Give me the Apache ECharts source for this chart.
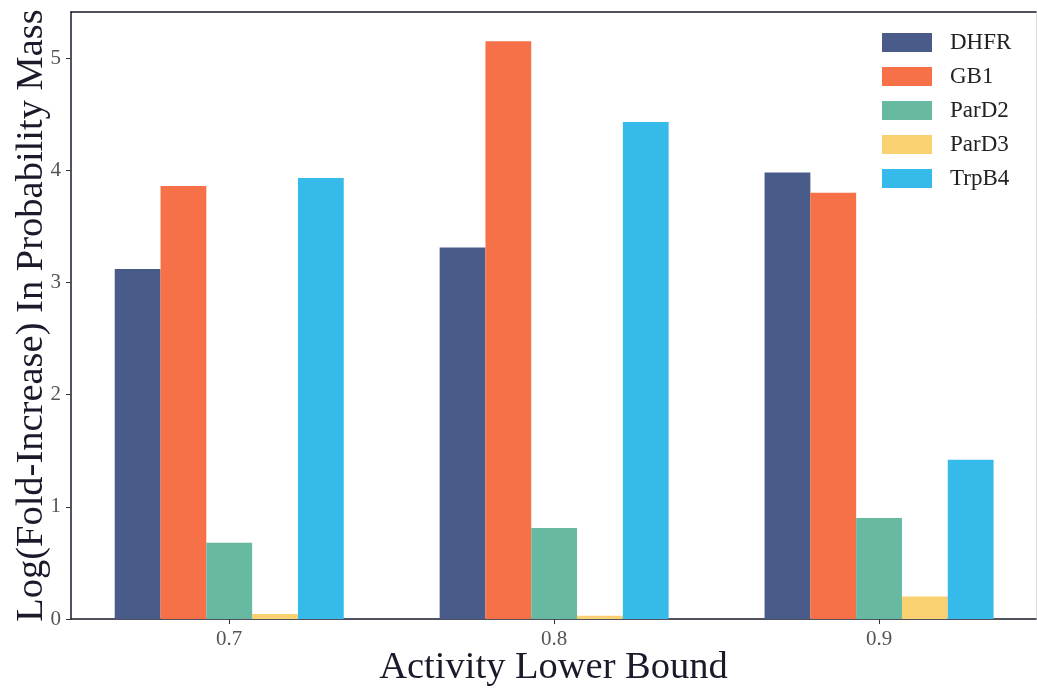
<!DOCTYPE html>
<html><head><meta charset="utf-8">
<script src="https://cdn.jsdelivr.net/npm/echarts@6/dist/echarts.min.js"></script>
<style>html,body{margin:0;padding:0;background:#fff}#c{width:1037px;height:688px}</style>
</head><body><div id="c"></div>
<script>
const categories = ['0.7', '0.8', '0.9'];
const seriesNames = ['DHFR', 'GB1', 'ParD2', 'ParD3', 'TrpB4'];
const DHFR = [3.12, 3.31, 3.98];
const GB1 = [3.86, 5.15, 3.80];
const ParD2 = [0.68, 0.81, 0.90];
const ParD3 = [0.045, 0.03, 0.20];
const TrpB4 = [3.93, 4.43, 1.42];
const yTicks = [0, 1, 2, 3, 4, 5];

const values = [DHFR, GB1, ParD2, ParD3, TrpB4];
const colors = ['#485b89', '#f67148', '#68b9a1', '#f9d171', '#35baea'];
const font = '"Liberation Serif", "DejaVu Serif", serif';
const xPos = categories.map((c, i) => i);

const chart = echarts.init(document.getElementById('c'));
chart.setOption({
  animation: false,
  textStyle: { fontFamily: font },
  grid: { left: 71, right: 1, top: 12, bottom: 69, containLabel: false, outerBoundsMode: 'none' },
  legend: {
    left: 882, top: 31, orient: 'vertical', padding: 0,
    itemWidth: 50, itemHeight: 19, itemGap: 11,
    icon: 'rect',
    textStyle: { fontFamily: font, fontSize: 23, color: '#222', padding: [0, 0, 0, 13] },
    data: seriesNames
  },
  xAxis: [{
    type: 'value', min: -0.487, max: 2.483,
    name: 'Activity Lower Bound', nameLocation: 'middle', nameGap: 29, nameMoveOverlap: false,
    nameTextStyle: { fontFamily: font, fontSize: 38.5, color: '#1a1a2a' },
    axisLine: { show: true, onZero: false, lineStyle: { color: '#1a1a2a', width: 1.5 } },
    axisTick: { show: true, length: 5, customValues: xPos, lineStyle: { color: '#333' } },
    axisLabel: { customValues: xPos, formatter: v => categories[Math.round(v)], fontSize: 21, color: '#555', margin: 10, fontFamily: font },
    splitLine: { show: false }
  }, {
    type: 'value', position: 'top', min: 0, max: 1,
    axisLine: { show: true, onZero: false, lineStyle: { color: '#1a1a2a', width: 1.5 } },
    axisTick: { show: false }, axisLabel: { show: false }, splitLine: { show: false }
  }],
  yAxis: [{
    type: 'value', min: 0, max: 5.41,
    name: 'Log(Fold-Increase) In Probability Mass', nameLocation: 'middle', nameGap: 20, nameMoveOverlap: false,
    nameTextStyle: { fontFamily: font, fontSize: 38.5, color: '#1a1a2a' },
    axisLine: { show: true, onZero: false, lineStyle: { color: '#1a1a2a', width: 1.5 } },
    axisTick: { show: true, length: 5, customValues: yTicks, lineStyle: { color: '#333' } },
    axisLabel: { customValues: yTicks, fontSize: 21, color: '#555', margin: 10, fontFamily: font },
    splitLine: { show: false }
  }, {
    type: 'value', position: 'right', min: 0, max: 1,
    axisLine: { show: true, onZero: false, lineStyle: { color: '#ddd', width: 1 } },
    axisTick: { show: false }, axisLabel: { show: false }, splitLine: { show: false }
  }],
  series: seriesNames.map((n, k) => ({
    name: n, type: 'bar', xAxisIndex: 0, yAxisIndex: 0,
    barWidth: 45.8, barGap: '0%',
    itemStyle: { color: colors[k] },
    data: values[k].map((v, i) => [xPos[i], v])
  }))
});
</script></body></html>
